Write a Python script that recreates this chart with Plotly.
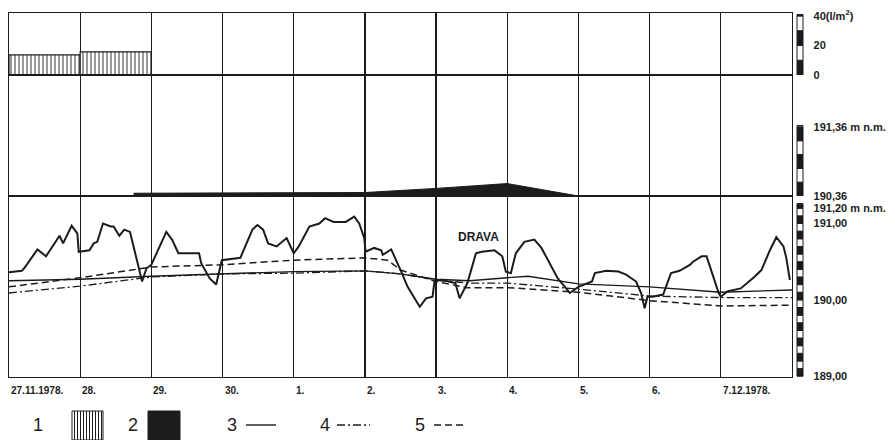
import plotly.graph_objects as go
from plotly.subplots import make_subplots

# ---------------- data ----------------
day_labels = ["27.11.1978.", "28.", "29.", "30.", "1.", "2.", "3.", "4.", "5.", "6.", "7.12.1978."]

# precipitation (l/m2), daily bars (day index, 0 = 27.11.1978)
precip_day = [0.5, 1.5]
precip_lm2 = [13.6, 15.6]

# flooded level above terrain 190,36 m n.m. (legend 2)
flood_day = [1.75, 4.00, 5.00, 6.00, 7.00, 8.00]
flood_level = [190.40, 190.40, 190.41, 190.47, 190.54, 190.36]
flood_base = 190.36

# Drava water level (m n.m.)
drava_day = [0.00, 0.18, 0.21, 0.40, 0.52, 0.71, 0.76, 0.88, 0.96, 0.98,
             1.13, 1.19, 1.24, 1.32, 1.43, 1.47, 1.55, 1.62, 1.70, 1.87,
             1.93, 2.00, 2.21, 2.29, 2.38, 2.55, 2.67, 2.70, 2.82, 2.91,
             2.99, 3.25, 3.42, 3.49, 3.57, 3.64, 3.76, 3.90, 4.00, 4.07,
             4.19, 4.22, 4.36, 4.44, 4.56, 4.73, 4.85, 4.92, 4.99, 5.01,
             5.13, 5.23, 5.25, 5.37, 5.51, 5.60, 5.77, 5.86, 5.95, 5.98,
             6.13, 6.27, 6.33, 6.44, 6.56, 6.64, 6.82, 6.93, 6.98, 7.05,
             7.12, 7.24, 7.38, 7.48, 7.71, 7.88, 8.00, 8.19, 8.23, 8.39,
             8.56, 8.67, 8.81, 8.88, 8.93, 8.97, 9.04, 9.19, 9.30, 9.42,
             9.57, 9.61, 9.73, 9.80, 9.97, 10.00, 10.09, 10.28, 10.47, 10.57,
             10.69, 10.78, 10.88, 10.92, 10.97]
drava_level = [190.36, 190.38, 190.41, 190.66, 190.57, 190.84, 190.74, 190.97, 190.87, 190.63,
               190.65, 190.74, 190.76, 191.00, 190.96, 190.96, 190.84, 190.92, 190.89, 190.24,
               190.41, 190.46, 190.89, 190.79, 190.61, 190.61, 190.61, 190.48, 190.28, 190.20,
               190.52, 190.55, 190.92, 190.98, 190.92, 190.74, 190.70, 190.81, 190.61, 190.70,
               190.92, 190.96, 191.00, 191.07, 191.02, 191.02, 191.09, 191.00, 190.81, 190.63,
               190.68, 190.65, 190.59, 190.66, 190.37, 190.17, 189.91, 190.02, 190.04, 190.26,
               190.25, 190.22, 190.02, 190.22, 190.61, 190.63, 190.65, 190.57, 190.37, 190.35,
               190.61, 190.76, 190.79, 190.68, 190.28, 190.09, 190.17, 190.24, 190.35, 190.38,
               190.37, 190.33, 190.24, 190.09, 189.89, 190.04, 190.04, 190.07, 190.35, 190.38,
               190.46, 190.50, 190.57, 190.57, 190.09, 190.04, 190.11, 190.15, 190.30, 190.39,
               190.65, 190.82, 190.70, 190.55, 190.26]

# series 3 (solid), 4 (dash-dot), 5 (dashed)
s3_day = [0, 1, 2, 3, 4, 5, 5.5, 6, 6.47, 7, 7.29, 8, 9, 10, 11]
s3_level = [190.25, 190.27, 190.31, 190.34, 190.37, 190.38, 190.34, 190.27, 190.25, 190.29,
            190.31, 190.21, 190.17, 190.10, 190.13]
s4_day = [0, 1, 2, 3, 4, 5, 5.5, 6, 6.47, 7, 8, 9, 10, 11]
s4_level = [190.09, 190.18, 190.30, 190.34, 190.35, 190.38, 190.34, 190.26, 190.22, 190.22,
            190.14, 190.05, 190.03, 190.03]
s5_day = [0, 1, 2, 3, 4, 5, 5.32, 5.5, 6, 6.43, 7, 8, 9, 10, 11]
s5_level = [190.17, 190.29, 190.43, 190.46, 190.52, 190.55, 190.52, 190.39, 190.24, 190.16,
            190.16, 190.10, 189.99, 189.92, 189.93]

precip_ticks = [40, 20, 0]
precip_ticktext = ["40(l/m<sup>2</sup>)", "20", "0"]
flood_ticks = [191.36, 190.36]
flood_ticktext = ["191,36 m n.m.", "190,36"]
level_ticks = [191.20, 191.00, 190.00, 189.00]
level_ticktext = ["191,20 m n.m.", "191,00", "190,00", "189,00"]

# ---------------- style ----------------
INK = "#1c1c1c"
FONT = "Liberation Sans, Arial, sans-serif"
W, H = 895, 440
ML, MR, MT, MB = 9, 103, 13, 63
PW, PH = W - ML - MR, H - MT - MB


def px(X):
    return (X - ML) / PW


def py(Y):
    return (H - MB - Y) / PH


fig = make_subplots(rows=3, cols=1, shared_xaxes=True, vertical_spacing=0,
                    row_heights=[62, 121, 181])

fig.add_trace(go.Bar(x=precip_day, y=precip_lm2, width=1.0,
                     marker=dict(color="white", line=dict(color=INK, width=1.2),
                                 pattern=dict(shape="|", fgcolor=INK, bgcolor="white",
                                              size=4, solidity=0.45)),
                     showlegend=False), row=1, col=1)

fig.add_trace(go.Scatter(x=flood_day, y=[flood_base] * len(flood_day), mode="lines",
                         line=dict(color=INK, width=0.5), showlegend=False), row=2, col=1)
fig.add_trace(go.Scatter(x=flood_day, y=flood_level, mode="lines", fill="tonexty",
                         fillcolor=INK, line=dict(color=INK, width=1),
                         showlegend=False), row=2, col=1)

fig.add_trace(go.Scatter(x=s5_day, y=s5_level, mode="lines",
                         line=dict(color=INK, width=1.5, dash="7px,4px"),
                         showlegend=False), row=3, col=1)
fig.add_trace(go.Scatter(x=s4_day, y=s4_level, mode="lines",
                         line=dict(color=INK, width=1.3, dash="8px,3px,2px,3px"),
                         showlegend=False), row=3, col=1)
fig.add_trace(go.Scatter(x=s3_day, y=s3_level, mode="lines",
                         line=dict(color=INK, width=1.4), showlegend=False), row=3, col=1)
fig.add_trace(go.Scatter(x=drava_day, y=drava_level, mode="lines",
                         line=dict(color=INK, width=2.0), showlegend=False), row=3, col=1)

tickfont = dict(family=FONT, size=11, color=INK, weight="bold")
for i in (1, 2, 3):
    fig.update_xaxes(range=[0, 11], tickvals=list(range(12)), showticklabels=False,
                     ticks="", showgrid=True, gridcolor=INK, gridwidth=1.2,
                     showline=True, linecolor=INK, linewidth=1.4, mirror=True,
                     zeroline=False, row=i, col=1)

ycommon = dict(side="right", ticks="", showgrid=False, zeroline=False, showline=True,
               linecolor=INK, linewidth=1.4, mirror=True, tickfont=tickfont,
               ticklabelstandoff=18)
fig.update_yaxes(range=[0, 42], tickvals=precip_ticks, ticktext=precip_ticktext,
                 row=1, col=1, **ycommon)
fig.update_yaxes(range=[190.36, 192.11], tickvals=flood_ticks, ticktext=flood_ticktext,
                 row=2, col=1, **ycommon)
fig.update_yaxes(range=[188.99, 191.36], tickvals=level_ticks, ticktext=level_ticktext,
                 row=3, col=1, **ycommon)

shapes = []
rx0, rx1 = px(797), px(803)


def ruler(yref, lo, hi, step, start_black=True):
    v = lo
    k = 0
    while v < hi - 1e-9:
        top = min(v + step, hi)
        black = (k % 2 == 0) == start_black
        shapes.append(dict(type="rect", xref="paper", yref=yref, x0=rx0, x1=rx1,
                           y0=v, y1=top, fillcolor=INK if black else "white",
                           line=dict(color=INK, width=1), layer="above"))
        v = top
        k += 1


ruler("y", 0, 41, 10)
ruler("y2", 190.36, 191.38, 0.2)
ruler("y3", 189.0, 191.26, 0.1)

annotations = []
for i, lab in enumerate(day_labels):
    annotations.append(dict(x=i, y=py(390), xref="x3", yref="paper", text=lab,
                            showarrow=False, xanchor="left", yanchor="middle", xshift=0,
                            font=dict(family=FONT, size=10, color=INK, weight="bold")))
annotations.append(dict(x=6.6, y=190.82, xref="x3", yref="y3", text="DRAVA",
                        showarrow=False, font=dict(family=FONT, size=12, color=INK,
                                                   weight="bold")))

# bottom legend
leg_y = 425
legend_items = [("1", 38), ("2", 133), ("3", 232), ("4", 325), ("5", 420)]
for txt, X in legend_items:
    annotations.append(dict(x=px(X), y=py(leg_y), xref="paper", yref="paper", text=txt,
                            showarrow=False, xanchor="center", yanchor="middle",
                            font=dict(family=FONT, size=18, color=INK)))
# 1: hatched box
shapes.append(dict(type="rect", xref="paper", yref="paper", x0=px(72), x1=px(103),
                   y0=py(440), y1=py(411), fillcolor="white", line=dict(color=INK, width=1)))
for k in range(10):
    Xk = 74.5 + k * 3
    shapes.append(dict(type="line", xref="paper", yref="paper", x0=px(Xk), x1=px(Xk),
                       y0=py(440), y1=py(411), line=dict(color=INK, width=1)))
# 2: dark box
shapes.append(dict(type="rect", xref="paper", yref="paper", x0=px(148), x1=px(180),
                   y0=py(440), y1=py(411), fillcolor=INK, line=dict(color=INK, width=1)))
# 3, 4, 5 line samples
for (x0, x1, dash, wdt) in [(246, 276, "solid", 1.4), (337, 370, "8px,3px,2px,3px", 1.3),
                            (434, 466, "7px,4px", 1.5)]:
    shapes.append(dict(type="line", xref="paper", yref="paper", x0=px(x0), x1=px(x1),
                       y0=py(leg_y), y1=py(leg_y), line=dict(color=INK, width=wdt, dash=dash)))

fig.update_layout(width=W, height=H, margin=dict(l=ML, r=MR, t=MT, b=MB),
                  paper_bgcolor="white", plot_bgcolor="white", showlegend=False,
                  bargap=0, shapes=shapes, annotations=annotations)

fig.write_html("out.html", config=dict(displayModeBar=False, staticPlot=True),
               post_script="document.body.style.margin='0';document.body.style.padding='0';")
